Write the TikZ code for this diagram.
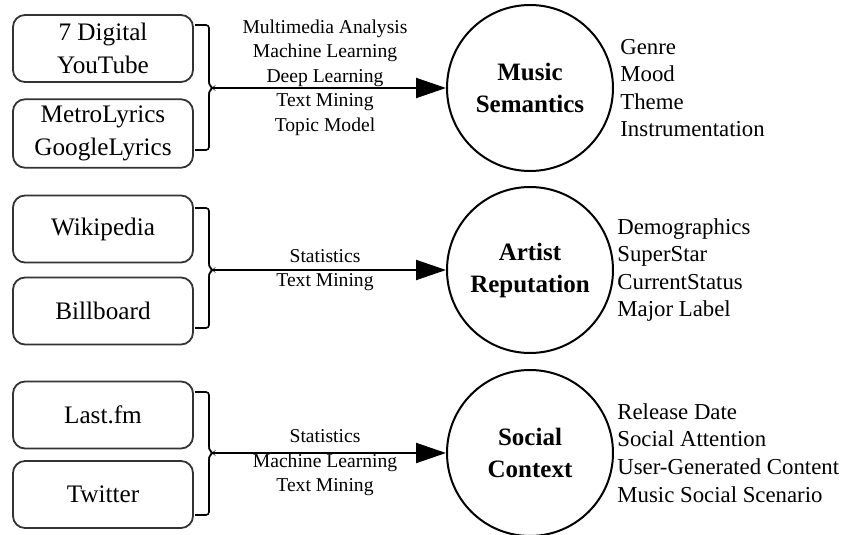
\documentclass[tikz,border=0pt]{standalone}
\usepackage{fontspec}
\setmainfont{Liberation Serif}
\usetikzlibrary{arrows.meta,positioning}

\begin{document}
\begin{tikzpicture}[x=0.5pt,y=-0.5pt,
  src/.style={rectangle, rounded corners=6pt, draw=black!80, line width=0.9pt, minimum width=90pt, minimum height=33.5pt, align=center, font=\fontsize{12.6}{16.5}\selectfont},
  topic/.style={circle, draw, line width=1pt, minimum size=83pt, inner sep=0pt, align=center, font=\fontsize{12.5}{16}\selectfont\bfseries},
  method/.style={align=center, font=\fontsize{9.8}{12.2}\selectfont},
  feat/.style={align=left, anchor=west, inner sep=0pt, font=\fontsize{11.4}{13.8}\selectfont},
  flow/.style={-{Triangle[length=15pt,width=10pt]}, line width=1pt},
  brace/.style={line width=0.8pt, rounded corners=1.5pt}]
\useasboundingbox (0,0) rectangle (842,535);
% sources
\node[src] at (103,48.5) (dig) {7 Digital\\YouTube};
\node[src] at (103,133.5) (lyr) {MetroLyrics\\GoogleLyrics};
\node[src] at (103,229) (wiki) {Wikipedia};
\node[src] at (103,311) (bill) {Billboard};
\node[src] at (103,415) (last) {Last.fm};
\node[src] at (103,494.5) (twit) {Twitter};
% topics
\node[topic] at (530,88) (sem) {Music\\Semantics};
\node[topic] at (530,270) (rep) {Artist\\Reputation};
\node[topic] at (530,453) (soc) {Social\\Context};
% methods
\node[method] at (325,77.5) (m1) {Multimedia Analysis\\Machine Learning\\Deep Learning\\Text Mining\\Topic Model};
\node[method] at (325,270) (m2) {Statistics\\Text Mining};
\node[method] at (325,463) (m3) {Statistics\\Machine Learning\\Text Mining};
% features
\node[feat] at (620,88) (f1) {Genre\\Mood\\Theme\\Instrumentation};
\node[feat] at (617,270) (f2) {Demographics\\SuperStar\\CurrentStatus\\Major Label};
\node[feat] at (617,453) (f3) {Release Date\\Social Attention\\User-Generated Content\\Music Social Scenario};
% brackets
\coordinate (b1) at (213,88);
\coordinate (b2) at (213,270);
\coordinate (b3) at (213,453);
\draw[brace] (195,25) -- (209,25) -- (209,85) -- (b1) -- (209,91) -- (209,150) -- (195,150);
\draw[brace] (195,208) -- (209,208) -- (209,267) -- (b2) -- (209,273) -- (209,328) -- (195,328);
\draw[brace] (195,392) -- (209,392) -- (209,450) -- (b3) -- (209,456) -- (209,515) -- (195,515);
% arrows
\draw[flow] (b1) -- (sem);
\draw[flow] (b2) -- (rep);
\draw[flow] (b3) -- (soc);
\end{tikzpicture}
\end{document}
